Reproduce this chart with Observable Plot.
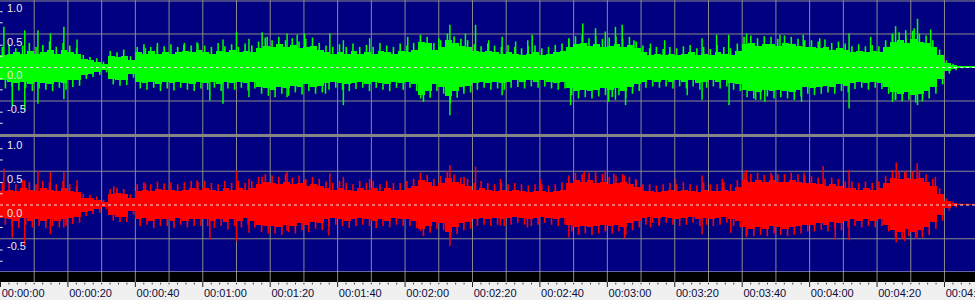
<!DOCTYPE html>
<html><head><meta charset="utf-8">
<script src="https://cdn.jsdelivr.net/npm/d3@7"></script>
<script src="https://cdn.jsdelivr.net/npm/@observablehq/plot@0.6"></script>
<style>
html,body{margin:0;padding:0;overflow:hidden;background:#f0f0f0;}
#chart{position:relative;width:975px;height:300px;overflow:hidden;background:#f0f0f0;font-family:"Liberation Sans",Arial,sans-serif;}
#chart > div{position:absolute;left:0;width:975px;}
#chart svg{display:block;}
</style></head>
<body>
<div id="chart">
  <div id="top" style="top:0;height:134px"></div>
  <div id="sep" style="top:134px;height:3px;background:#858585"></div>
  <div id="bot" style="top:137px;height:135px"></div>
  <div id="band" style="top:272px;height:10px"></div>
  <div id="axis" style="top:282px;height:18px"></div>
</div>
<script>
// ---- data (amplitude, -1..1), one value per 2-second bin starting at 0 s ----
const binSeconds = 2;
// solid body of the waveform (upper edge, lower edge magnitude)
const greenHi = [
 0.18,0.20,0.22,0.20,0.24,0.20,0.22,0.25,0.20,0.26,
 0.22,0.20,0.12,0.10,0.08,0.05,0.16,0.15,0.17,0.10,
 0.22,0.20,0.24,0.20,0.23,0.20,0.22,0.24,0.22,0.26,
 0.22,0.20,0.24,0.22,0.25,0.22,0.24,0.22,0.28,0.32,
 0.30,0.34,0.30,0.33,0.28,0.30,0.32,0.26,0.22,0.20,
 0.22,0.20,0.24,0.20,0.22,0.20,0.24,0.22,0.20,0.24,
 0.22,0.26,0.38,0.36,0.26,0.30,0.40,0.36,0.32,0.30,
 0.24,0.22,0.24,0.22,0.20,0.22,0.20,0.18,0.20,0.22,
 0.18,0.20,0.22,0.24,0.30,0.34,0.36,0.32,0.34,0.30,
 0.32,0.34,0.30,0.33,0.28,0.22,0.18,0.20,0.18,0.20,
 0.18,0.20,0.22,0.18,0.20,0.18,0.22,0.20,0.18,0.24,
 0.34,0.36,0.32,0.35,0.34,0.32,0.36,0.34,0.32,0.30,
 0.30,0.28,0.30,0.26,0.28,0.26,0.22,0.24,0.22,0.24,
 0.22,0.30,0.38,0.40,0.36,0.42,0.38,0.36,0.30,0.18,
 0.06,0.03,0.012,0.012,0.012
];
const greenLo = [
 0.20,0.22,0.24,0.22,0.26,0.22,0.24,0.26,0.22,0.24,
 0.20,0.20,0.12,0.10,0.08,0.05,0.18,0.20,0.20,0.10,
 0.22,0.24,0.22,0.26,0.22,0.24,0.22,0.24,0.26,0.22,
 0.24,0.22,0.26,0.22,0.24,0.22,0.24,0.22,0.30,0.32,
 0.34,0.30,0.32,0.28,0.30,0.26,0.30,0.28,0.24,0.22,
 0.24,0.26,0.24,0.22,0.26,0.22,0.24,0.26,0.22,0.24,
 0.22,0.26,0.42,0.36,0.26,0.30,0.44,0.36,0.30,0.28,
 0.24,0.22,0.24,0.22,0.24,0.22,0.20,0.22,0.20,0.22,
 0.20,0.22,0.24,0.22,0.32,0.36,0.34,0.36,0.34,0.32,
 0.34,0.32,0.36,0.30,0.26,0.22,0.20,0.22,0.20,0.22,
 0.20,0.22,0.20,0.24,0.22,0.20,0.22,0.20,0.24,0.26,
 0.34,0.36,0.38,0.34,0.36,0.34,0.36,0.38,0.34,0.30,
 0.32,0.30,0.28,0.30,0.26,0.28,0.24,0.22,0.24,0.22,
 0.24,0.30,0.38,0.40,0.38,0.42,0.40,0.36,0.30,0.18,
 0.06,0.03,0.012,0.012,0.012
];
// ragged fringe: typical peak per bin above / below the body
const greenPeakHi = [
 0.30,0.34,0.28,0.32,0.36,0.30,0.33,0.38,0.30,0.36,
 0.32,0.28,0.18,0.15,0.13,0.08,0.24,0.22,0.26,0.16,
 0.30,0.34,0.30,0.36,0.31,0.34,0.30,0.36,0.32,0.35,
 0.32,0.30,0.36,0.31,0.34,0.30,0.35,0.32,0.38,0.44,
 0.40,0.45,0.40,0.43,0.38,0.42,0.44,0.36,0.32,0.30,
 0.34,0.30,0.35,0.30,0.33,0.30,0.36,0.32,0.30,0.35,
 0.32,0.36,0.48,0.45,0.36,0.40,0.50,0.46,0.42,0.40,
 0.34,0.31,0.35,0.32,0.30,0.33,0.30,0.28,0.31,0.32,
 0.28,0.30,0.33,0.35,0.42,0.46,0.48,0.43,0.46,0.42,
 0.44,0.46,0.42,0.45,0.38,0.32,0.28,0.30,0.27,0.30,
 0.28,0.31,0.33,0.28,0.30,0.27,0.33,0.30,0.28,0.35,
 0.45,0.47,0.43,0.46,0.45,0.42,0.47,0.45,0.42,0.40,
 0.40,0.38,0.41,0.36,0.38,0.35,0.31,0.34,0.31,0.33,
 0.31,0.40,0.49,0.52,0.47,0.54,0.50,0.47,0.40,0.26,
 0.10,0.05,0.02,0.012,0.012
];
const greenPeakLo = [
 0.32,0.30,0.35,0.31,0.36,0.32,0.34,0.36,0.31,0.34,
 0.30,0.28,0.18,0.15,0.12,0.08,0.26,0.28,0.27,0.16,
 0.32,0.34,0.31,0.36,0.32,0.35,0.31,0.34,0.36,0.32,
 0.34,0.31,0.36,0.32,0.34,0.31,0.35,0.32,0.40,0.43,
 0.45,0.40,0.43,0.38,0.41,0.36,0.40,0.38,0.34,0.31,
 0.34,0.36,0.33,0.31,0.36,0.31,0.34,0.36,0.31,0.34,
 0.31,0.36,0.52,0.46,0.36,0.40,0.54,0.46,0.40,0.38,
 0.34,0.31,0.34,0.32,0.34,0.31,0.30,0.32,0.29,0.31,
 0.29,0.32,0.34,0.32,0.42,0.47,0.45,0.47,0.44,0.42,
 0.45,0.42,0.47,0.40,0.36,0.31,0.29,0.31,0.29,0.32,
 0.29,0.32,0.29,0.34,0.31,0.29,0.32,0.29,0.34,0.36,
 0.45,0.47,0.49,0.44,0.47,0.45,0.47,0.49,0.44,0.40,
 0.42,0.40,0.38,0.40,0.36,0.38,0.33,0.31,0.34,0.31,
 0.33,0.40,0.49,0.51,0.49,0.53,0.51,0.47,0.40,0.26,
 0.10,0.05,0.02,0.012,0.012
];
const redHi = [
 0.20,0.22,0.20,0.24,0.22,0.20,0.24,0.22,0.20,0.24,
 0.20,0.18,0.10,0.09,0.07,0.04,0.15,0.17,0.15,0.09,
 0.20,0.22,0.20,0.23,0.21,0.22,0.20,0.22,0.24,0.22,
 0.24,0.22,0.20,0.24,0.22,0.24,0.22,0.24,0.30,0.34,
 0.32,0.30,0.34,0.30,0.32,0.28,0.30,0.28,0.24,0.22,
 0.24,0.22,0.20,0.24,0.22,0.24,0.20,0.24,0.22,0.22,
 0.24,0.28,0.36,0.34,0.28,0.32,0.40,0.34,0.30,0.28,
 0.22,0.24,0.22,0.20,0.22,0.20,0.22,0.20,0.18,0.20,
 0.20,0.18,0.20,0.22,0.32,0.36,0.34,0.36,0.32,0.34,
 0.30,0.32,0.34,0.30,0.26,0.20,0.20,0.18,0.20,0.22,
 0.20,0.22,0.20,0.18,0.22,0.20,0.20,0.22,0.20,0.26,
 0.36,0.34,0.36,0.33,0.36,0.34,0.34,0.36,0.34,0.32,
 0.32,0.30,0.28,0.30,0.28,0.24,0.24,0.22,0.24,0.22,
 0.24,0.32,0.40,0.38,0.40,0.38,0.40,0.34,0.28,0.16,
 0.05,0.025,0.012,0.012,0.012
];
const redLo = [
 0.20,0.22,0.24,0.20,0.24,0.22,0.24,0.22,0.24,0.22,
 0.20,0.18,0.11,0.09,0.07,0.04,0.16,0.18,0.18,0.09,
 0.22,0.20,0.24,0.22,0.22,0.24,0.20,0.24,0.22,0.22,
 0.22,0.24,0.22,0.26,0.22,0.24,0.20,0.24,0.30,0.32,
 0.32,0.34,0.30,0.32,0.28,0.30,0.26,0.28,0.22,0.20,
 0.22,0.24,0.22,0.20,0.22,0.24,0.22,0.24,0.20,0.22,
 0.22,0.24,0.36,0.32,0.26,0.28,0.40,0.34,0.28,0.26,
 0.22,0.20,0.22,0.20,0.22,0.20,0.18,0.20,0.22,0.20,
 0.18,0.20,0.22,0.20,0.30,0.34,0.32,0.34,0.32,0.30,
 0.32,0.30,0.34,0.28,0.24,0.20,0.18,0.20,0.18,0.20,
 0.22,0.20,0.18,0.22,0.20,0.22,0.20,0.18,0.22,0.24,
 0.34,0.36,0.34,0.36,0.32,0.34,0.36,0.34,0.32,0.30,
 0.30,0.28,0.30,0.26,0.28,0.24,0.22,0.24,0.22,0.24,
 0.22,0.30,0.38,0.40,0.36,0.40,0.38,0.34,0.26,0.16,
 0.05,0.025,0.012,0.012,0.012
];
const redPeakHi = [
 0.32,0.34,0.30,0.36,0.33,0.30,0.35,0.33,0.30,0.35,
 0.30,0.27,0.16,0.14,0.12,0.07,0.23,0.25,0.23,0.15,
 0.30,0.33,0.30,0.34,0.31,0.33,0.30,0.33,0.35,0.33,
 0.35,0.32,0.30,0.35,0.32,0.35,0.32,0.35,0.41,0.45,
 0.43,0.41,0.45,0.40,0.43,0.38,0.41,0.38,0.34,0.32,
 0.35,0.32,0.30,0.35,0.32,0.35,0.30,0.35,0.32,0.32,
 0.35,0.38,0.47,0.44,0.38,0.42,0.50,0.44,0.40,0.38,
 0.32,0.35,0.32,0.30,0.33,0.30,0.32,0.30,0.28,0.30,
 0.30,0.28,0.30,0.33,0.43,0.47,0.45,0.47,0.43,0.45,
 0.41,0.43,0.45,0.41,0.36,0.30,0.30,0.28,0.30,0.32,
 0.30,0.33,0.30,0.28,0.33,0.30,0.30,0.33,0.30,0.36,
 0.47,0.45,0.47,0.44,0.47,0.45,0.45,0.47,0.45,0.43,
 0.42,0.40,0.38,0.40,0.38,0.34,0.34,0.32,0.34,0.32,
 0.34,0.42,0.51,0.49,0.51,0.49,0.51,0.45,0.38,0.24,
 0.09,0.045,0.02,0.012,0.012
];
const redPeakLo = [
 0.30,0.32,0.35,0.30,0.34,0.32,0.35,0.32,0.34,0.31,
 0.29,0.27,0.17,0.14,0.12,0.07,0.24,0.26,0.26,0.15,
 0.32,0.30,0.35,0.32,0.32,0.35,0.30,0.34,0.32,0.32,
 0.32,0.35,0.32,0.37,0.32,0.34,0.30,0.34,0.41,0.43,
 0.43,0.45,0.41,0.43,0.38,0.41,0.36,0.38,0.32,0.30,
 0.32,0.35,0.32,0.30,0.32,0.35,0.32,0.34,0.30,0.32,
 0.32,0.35,0.47,0.42,0.36,0.38,0.51,0.44,0.38,0.36,
 0.32,0.30,0.32,0.30,0.32,0.30,0.27,0.30,0.32,0.30,
 0.27,0.30,0.32,0.30,0.40,0.45,0.43,0.45,0.43,0.40,
 0.43,0.40,0.45,0.38,0.34,0.30,0.27,0.30,0.27,0.30,
 0.32,0.30,0.27,0.32,0.30,0.32,0.30,0.27,0.32,0.34,
 0.45,0.47,0.45,0.47,0.43,0.45,0.47,0.45,0.43,0.40,
 0.40,0.38,0.40,0.36,0.38,0.34,0.32,0.34,0.32,0.34,
 0.32,0.40,0.49,0.51,0.47,0.51,0.49,0.45,0.36,0.24,
 0.09,0.045,0.02,0.012,0.012
];
// prominent single peaks: [seconds, amplitude]
const greenSpikes = [
 [1.0,0.6],[3.5,-0.58],[7.2,0.55],[7.2,-0.65],[11.1,0.55],[11.1,-0.55],[14.8,0.5],[18.8,0.6],[18.8,-0.48],[22.7,0.41],
 [43,0.28],[46.5,0.3],[54.4,0.33],[58.3,0.37],[62.1,-0.5],[66,0.41],[66,-0.55],[70,0.52],[73.7,0.42],[73.7,-0.45],
 [77.6,0.52],[79.1,0.45],[85,0.5],[85,-0.45],[88,0.48],[90.2,0.5],[96.4,-0.4],
 [97.7,0.5],[101.7,0.4],[101.7,-0.57],[109.5,0.43],[120.8,0.45],[124.6,0.41],[124.6,-0.47],[130,0.43],[133.3,0.63],
 [133.3,-0.72],[137.9,0.5],[140.9,0.63],[144.8,0.4],[148.8,0.45],[148.8,-0.42],[152.8,0.38],[156.4,0.4],[157.7,0.48],
 [169.1,-0.57],[168.6,0.43],[172.7,0.65],[176.5,0.58],[179.4,0.53],[180.4,-0.52],[182.4,0.6],[182.4,-0.49],[184.4,0.63],
 [185.4,-0.57],[187.9,0.4],
 [192.8,0.35],[197,0.4],[203.7,-0.42],[208.1,0.43],[208.1,-0.49],[212.4,0.48],[216,0.48],[216.1,-0.57],[221.3,0.5],
 [224,-0.49],[226.7,-0.52],[231.2,0.48],[238.1,0.48],[237.6,-0.52],[243,0.43],[251.7,0.5],[251.7,-0.62],[258.1,0.45],
 [264.6,0.5],[264.6,-0.52],[265.5,0.61],[265.5,-0.49],[268.5,0.55],[271,0.58],[272,0.72],[272,-0.57],[275.9,0.56]
];
const redSpikes = [
 [1,0.53],[3.5,-0.49],[7.2,0.36],[7.2,-0.6],[11.1,0.5],[14.8,0.48],[14.8,-0.44],[18.8,0.48],[18.8,-0.34],[22.7,0.36],
 [33.6,0.27],[43,0.31],[58.3,0.36],[62.1,-0.52],[70,0.5],[70,-0.54],[73.7,0.38],[73.7,-0.42],[77.6,0.41],[85,0.48],
 [85,-0.39],[90.2,0.36],[97.4,-0.46],
 [97.7,0.46],[101.7,0.41],[109.5,0.38],[124.6,0.38],[124.6,-0.39],[133.3,0.58],[133.3,-0.62],[137.5,0.41],[140.9,0.56],
 [148.3,0.38],[148.3,-0.31],[156.3,-0.34],[160.2,0.37],[168.6,-0.49],[168.6,0.41],[173.1,0.5],[176.5,0.48],[179.4,0.5],
 [179.4,-0.39],[181.9,0.46],[185.1,-0.5],[185.1,0.43],[188.4,0.38],[192.8,-0.34],
 [195.3,-0.32],[200.2,0.38],[208.1,0.43],[208.1,-0.44],[214.1,0.38],[216.6,-0.42],[221.2,0.51],[221.2,-0.48],[228.9,0.43],
 [238.3,0.47],[244,0.57],[247.6,-0.52],[251.7,0.51],[251.7,-0.53],[260.1,0.36],[265.7,0.62],[265.7,-0.56],[268.2,-0.54],
 [268.2,0.48],[271.9,0.61],[271.9,-0.49],[277.3,0.41]
];
// axes
const timeMax = 289.2;
const gridTimes = [10,20,30,40,50,60,70,80,90,100,110,120,130,140,150,160,170,180,190,200,210,220,230,240,250,260,270,280];
const majorTimes = [0,20,40,60,80,100,120,140,160,180,200,220,240,260,280];
const minorTimes = d3.range(0, 290, 2.5).filter(t => t % 20 !== 0);
const gridAmps = [0.5, -0.5];
const ampLabels = [1.0, 0.5, 0.0, -0.5];
const ampMinor = [0.833, 0.667, 0.333, 0.167, -0.167, -0.333, -0.667, -0.833];

const fmtTime = s => {
  const h = Math.floor(s / 3600), m = Math.floor((s % 3600) / 60), sec = Math.round(s % 60);
  const p = v => String(v).padStart(2, "0");
  return `${p(h)}:${p(m)}:${p(sec)}`;
};
const FONT = "Liberation Sans, Arial, sans-serif";

function panel(hi, lo, pkHi, pkLo, spikes, color, height, topLine, bottomLine) {
  const bins = hi.map((h, i) => ({t: i * binSeconds, hi: h, lo: -lo[i], pkHi: pkHi[i], pkLo: -pkLo[i]}));
  return Plot.plot({
    width: 975, height, margin: 0,
    style: {background: "#000080", fontFamily: FONT, fontSize: "11px"},
    x: {domain: [0, timeMax], axis: null},
    y: {domain: [-1, 1], axis: null},
    marks: [
      Plot.ruleX(gridTimes, {stroke: "#8a8a8a", strokeOpacity: 1}),
      Plot.ruleY(gridAmps, {stroke: "#8a8a8a", strokeOpacity: 1}),
      Plot.rect(bins, {x1: "t", x2: d => d.t + binSeconds, y1: "lo", y2: "hi", fill: color, shapeRendering: "crispEdges"}),
      Plot.ruleX(bins, {x: d => d.t + 0.55, y1: 0, y2: "pkHi", stroke: color, strokeWidth: 1.6, strokeOpacity: 1}),
      Plot.ruleX(bins, {x: d => d.t + 1.45, y1: 0, y2: "pkLo", stroke: color, strokeWidth: 1.6, strokeOpacity: 1}),
      Plot.ruleX(spikes, {x: d => d[0], y1: 0, y2: d => d[1], stroke: color, strokeWidth: 1.5, strokeOpacity: 1}),
      Plot.ruleY([0], {stroke: "#e4e4e4", strokeDasharray: "3,3", strokeOpacity: 1}),
      topLine ? Plot.ruleY([1], {stroke: topLine, dy: 0.5, strokeOpacity: 1}) : null,
      bottomLine ? Plot.ruleY([-1], {stroke: bottomLine, dy: -0.5, strokeOpacity: 1}) : null,
      Plot.ruleY(ampMinor, {x1: 0, x2: 0.8, stroke: "#e8e8e8", strokeOpacity: 1}),
      Plot.text(ampLabels, {x: 0, y: d => d, text: d => d.toFixed(1), textAnchor: "start", lineAnchor: "bottom",
        dx: 6.5, dy: 11.5, fill: "#e8e8e8", fontSize: 11})
    ]
  });
}

document.getElementById("top").append(panel(greenHi, greenLo, greenPeakHi, greenPeakLo, greenSpikes, "#00ff00", 134, "#8a8a8a", null));
document.getElementById("bot").append(panel(redHi, redLo, redPeakHi, redPeakLo, redSpikes, "#ff0000", 135, null, "#c8c8c8"));

document.getElementById("band").append(Plot.plot({
  width: 975, height: 10, margin: 0,
  style: {background: "#000000"},
  x: {domain: [0, timeMax], axis: null},
  marks: [Plot.ruleX(gridTimes, {stroke: "#8a8a8a", strokeOpacity: 1})]
}));

document.getElementById("axis").append(Plot.plot({
  width: 975, height: 18, margin: 0,
  style: {background: "#f0f0f0", fontFamily: FONT, fontSize: "11px"},
  x: {domain: [0, timeMax], axis: null},
  y: {domain: [0, 18], range: [0, 18], axis: null},
  marks: [
    Plot.ruleX(majorTimes, {y1: 0, y2: 5, stroke: "#202020", strokeOpacity: 1}),
    Plot.ruleX(minorTimes, {y1: 0.8, y2: 2.4, stroke: "#303030", strokeOpacity: 1}),
    Plot.text(majorTimes, {x: d => d, y: 14.7, text: fmtTime, textAnchor: "start", lineAnchor: "bottom",
      dx: 1.2, fill: "#0c0c3c", fontSize: 11})
  ]
}));
</script>
</body></html>
